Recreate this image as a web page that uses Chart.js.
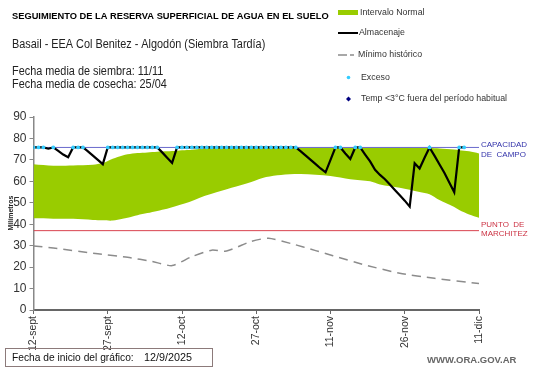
<!DOCTYPE html>
<html>
<head>
<meta charset="utf-8">
<script src="https://cdn.jsdelivr.net/npm/chart.js@4.4.1/dist/chart.umd.min.js"></script>
<style>
  body { margin: 0; background: #fff; }
  canvas { display: block; }
</style>
</head>
<body>
<canvas id="chart" width="541" height="368"></canvas>
<script>
// Datos (día 0 = 12/9)
const dateLabels = ['12-sept', '27-sept', '12-oct', '27-oct', '11-nov', '26-nov', '11-dic'];
const CAPACIDAD = 75.8;
const MARCHITEZ = 37;

// Intervalo normal (límite inferior y superior)
const normalDays = [0, 4, 8, 12, 14, 16, 18, 19, 21, 23, 25, 27, 29, 31, 33, 35, 36, 40, 44, 47, 50, 54, 60, 64, 68, 70, 74, 78, 80, 82, 85, 86, 88, 90];
const normalLow  = [42.8, 42.6, 42.5, 42.0, 41.8, 41.7, 42.5, 43.0, 44.2, 45.2, 46.2, 47.2, 48.6, 50.0, 51.8, 53.5, 54.2, 57.0, 59.7, 62.0, 63.0, 63.4, 62.5, 61.0, 60.0, 58.5, 57.0, 55.0, 54.0, 51.3, 48.0, 46.6, 44.5, 43.0];
const normalHigh = [68.0, 67.3, 67.4, 67.7, 68.5, 70.5, 72.0, 72.6, 73.2, 73.5, 73.8, 74.0, 74.3, 74.6, 75.0, 75.4, 75.8, 75.8, 75.8, 75.8, 75.8, 75.8, 75.8, 75.8, 75.8, 75.8, 75.8, 75.7, 75.5, 75.3, 74.8, 74.5, 74.0, 73.0];

// Almacenaje diario
const storage = [
  75.8, 75.8, 75.8, 75.2, 75.8, 74.2, 72.5, 71.2, 75.8, 75.8,
  75.8, 74.0, 72.0, 70.0, 68.0, 75.8, 75.8, 75.8, 75.8, 75.8,
  75.8, 75.8, 75.8, 75.8, 75.8, 75.8, 73.5, 71.0, 68.6, 75.8,
  75.8, 75.8, 75.8, 75.8, 75.8, 75.8, 75.8, 75.8, 75.8, 75.8,
  75.8, 75.8, 75.8, 75.8, 75.8, 75.8, 75.8, 75.8, 75.8, 75.8,
  75.8, 75.8, 75.8, 75.8, 74.0, 72.0, 70.0, 68.0, 66.0, 64.2,
  70.0, 75.8, 75.8, 73.0, 70.4, 75.8, 75.8, 72.5, 69.3, 65.4,
  63.0, 61.0, 58.5, 56.0, 53.5, 51.0, 48.2, 68.4, 66.0, 71.0,
  75.8, 72.0, 68.0, 64.0, 59.5, 54.9, 75.8, 75.8
];

// Mínimo histórico
const minDays = [0, 4, 13, 19, 24, 28, 32, 36, 39, 44, 47.5, 52, 57, 60.5, 67, 74, 81, 90];
const minVals = [29.9, 28.9, 26.2, 24.6, 22.6, 20.7, 24.9, 27.9, 27.5, 32.0, 33.5, 31.0, 27.7, 25.3, 21.0, 17.1, 14.8, 12.3];

// Temp <3°C fuera del período habitual (sin eventos)
const tempDays = [];
const tempVals = [];

const FONT = '"Liberation Sans", Arial, sans-serif';

function pts(xs, ys) {
    return xs.map((x, i) => ({ x: x, y: ys[i] }));
}

// texto algo comprimido en horizontal, como en la imagen original
function narrowText(ctx, text, x, y, sx) {
    ctx.save();
    ctx.translate(x, y);
    ctx.scale(sx, 1);
    ctx.fillText(text, 0, 0);
    ctx.restore();
}

const textPlugin = {
    id: 'texts',
    afterDraw(chart) {
        const ctx = chart.ctx;
        ctx.save();
        ctx.textBaseline = 'middle';
        ctx.textAlign = 'left';

        // Títulos
        ctx.fillStyle = '#000';
        ctx.font = 'bold 9.3px ' + FONT;
        ctx.fillText('SEGUIMIENTO DE LA RESERVA SUPERFICIAL DE AGUA EN EL SUELO', 12, 16);
        ctx.fillStyle = '#222';
        ctx.font = '12.5px ' + FONT;
        narrowText(ctx, 'Basail - EEA Col Benitez - Algodón (Siembra Tardía)', 12, 45, 0.87);
        narrowText(ctx, 'Fecha media de siembra: 11/11', 12, 72, 0.87);
        narrowText(ctx, 'Fecha media de cosecha: 25/04', 12, 85, 0.87);

        // Leyenda
        ctx.font = '8.8px ' + FONT;
        ctx.fillStyle = '#99cc00';
        ctx.fillRect(338, 10, 20, 5);
        ctx.strokeStyle = '#000';
        ctx.lineWidth = 2;
        ctx.beginPath();
        ctx.moveTo(338, 33);
        ctx.lineTo(358, 33);
        ctx.stroke();
        ctx.strokeStyle = '#8c8c8c';
        ctx.lineWidth = 1.5;
        ctx.beginPath();
        ctx.moveTo(338, 55);
        ctx.lineTo(347, 55);
        ctx.moveTo(350, 55);
        ctx.lineTo(354, 55);
        ctx.stroke();
        ctx.fillStyle = '#33ccff';
        ctx.beginPath();
        ctx.arc(348.5, 77.5, 1.8, 0, Math.PI * 2);
        ctx.fill();
        ctx.fillStyle = '#000080';
        ctx.beginPath();
        ctx.moveTo(348.5, 96.5);
        ctx.lineTo(351, 99);
        ctx.lineTo(348.5, 101.5);
        ctx.lineTo(346, 99);
        ctx.closePath();
        ctx.fill();

        ctx.fillStyle = '#333';
        ctx.fillText('Intervalo Normal', 360, 12.5);
        ctx.fillText('Almacenaje', 359, 33);
        ctx.fillText('Mínimo histórico', 358, 55);
        ctx.fillText('Exceso', 361, 77.5);
        ctx.fillText('Temp <3°C fuera del período habitual', 361, 99);

        // Etiquetas de líneas de referencia
        ctx.font = '8px ' + FONT;
        ctx.fillStyle = '#3333aa';
        ctx.fillText('CAPACIDAD', 481, 145);
        ctx.fillText('DE  CAMPO', 481, 154.5);
        ctx.fillStyle = '#cc3344';
        ctx.fillText('PUNTO  DE', 481, 224.5);
        ctx.fillText('MARCHITEZ', 481, 234);

        // Título eje Y
        ctx.save();
        ctx.translate(11.5, 213);
        ctx.rotate(-Math.PI / 2);
        ctx.textAlign = 'center';
        ctx.fillStyle = '#222';
        ctx.font = 'bold 7px ' + FONT;
        ctx.fillText('Milímetros', 0, 0);
        ctx.restore();

        // Recuadro fecha de inicio
        ctx.strokeStyle = '#8c7a7a';
        ctx.lineWidth = 1;
        ctx.strokeRect(5.5, 348.5, 207, 18);
        ctx.fillStyle = '#111';
        ctx.font = '11px ' + FONT;
        narrowText(ctx, 'Fecha de inicio del gráfico:', 12, 358, 0.93);
        narrowText(ctx, '12/9/2025', 144, 358, 0.98);

        // Sitio
        ctx.fillStyle = '#666';
        ctx.font = 'bold 9.5px ' + FONT;
        ctx.fillText('WWW.ORA.GOV.AR', 427, 360);
        ctx.restore();
    }
};

new Chart(document.getElementById('chart'), {
    type: 'line',
    data: {
        datasets: [
            {
                label: 'Intervalo Normal inf',
                data: pts(normalDays, normalLow),
                borderWidth: 0,
                pointRadius: 0,
                fill: false,
                tension: 0.3,
                order: 7
            },
            {
                label: 'Intervalo Normal',
                data: pts(normalDays, normalHigh),
                borderWidth: 0,
                pointRadius: 0,
                backgroundColor: '#99cc00',
                fill: '-1',
                tension: 0.3,
                order: 6
            },
            {
                label: 'Mínimo histórico',
                data: pts(minDays, minVals),
                borderColor: '#8c8c8c',
                borderWidth: 1.5,
                borderDash: [9, 6],
                pointRadius: 0,
                tension: 0.2,
                order: 5
            },
            {
                label: 'Punto de marchitez',
                data: [{ x: 0, y: MARCHITEZ }, { x: 90, y: MARCHITEZ }],
                borderColor: '#d9434f',
                borderWidth: 1,
                pointRadius: 0,
                order: 4
            },
            {
                label: 'Capacidad de campo',
                data: [{ x: 0, y: CAPACIDAD }, { x: 90, y: CAPACIDAD }],
                borderColor: '#6a6acc',
                borderWidth: 1,
                pointRadius: 0,
                order: 3
            },
            {
                label: 'Almacenaje',
                data: storage.map((v, i) => ({ x: i, y: v })),
                borderColor: '#000',
                borderWidth: 2.2,
                pointRadius: 0,
                tension: 0,
                order: 2
            },
            {
                label: 'Exceso',
                data: storage.map((v, i) => ({ x: i, y: v >= CAPACIDAD ? v : null })),
                showLine: false,
                pointRadius: 1.9,
                pointBorderWidth: 0,
                pointBackgroundColor: '#33ccff',
                order: 1
            },
            {
                label: 'Temp <3°C fuera del período habitual',
                data: pts(tempDays, tempVals),
                showLine: false,
                pointStyle: 'rectRot',
                pointRadius: 3,
                pointBackgroundColor: '#000080',
                order: 0
            }
        ]
    },
    options: {
        responsive: false,
        animation: false,
        events: [],
        layout: { padding: { left: 10, right: 62, top: 117, bottom: 18 } },
        plugins: {
            legend: { display: false },
            tooltip: { enabled: false }
        },
        scales: {
            x: {
                type: 'linear',
                min: 0,
                max: 90,
                afterFit(scale) { scale.height = 40; },
                grid: { drawOnChartArea: false, drawTicks: true, tickLength: 4, color: '#666' },
                border: { color: '#666', width: 2 },
                ticks: {
                    stepSize: 15,
                    autoSkip: false,
                    minRotation: 90,
                    maxRotation: 90,
                    padding: 2,
                    color: '#333',
                    font: { family: FONT, size: 10.5 },
                    callback: v => dateLabels[v / 15]
                }
            },
            y: {
                min: 0,
                max: 90,
                afterFit(scale) { scale.width = 23.5; },
                grid: { drawOnChartArea: false, drawTicks: true, tickLength: 4, color: '#888' },
                border: { color: '#888', width: 1.5 },
                ticks: {
                    stepSize: 10,
                    padding: 3,
                    color: '#333',
                    font: { family: FONT, size: 12 }
                }
            }
        }
    },
    plugins: [textPlugin]
});
</script>
</body>
</html>
